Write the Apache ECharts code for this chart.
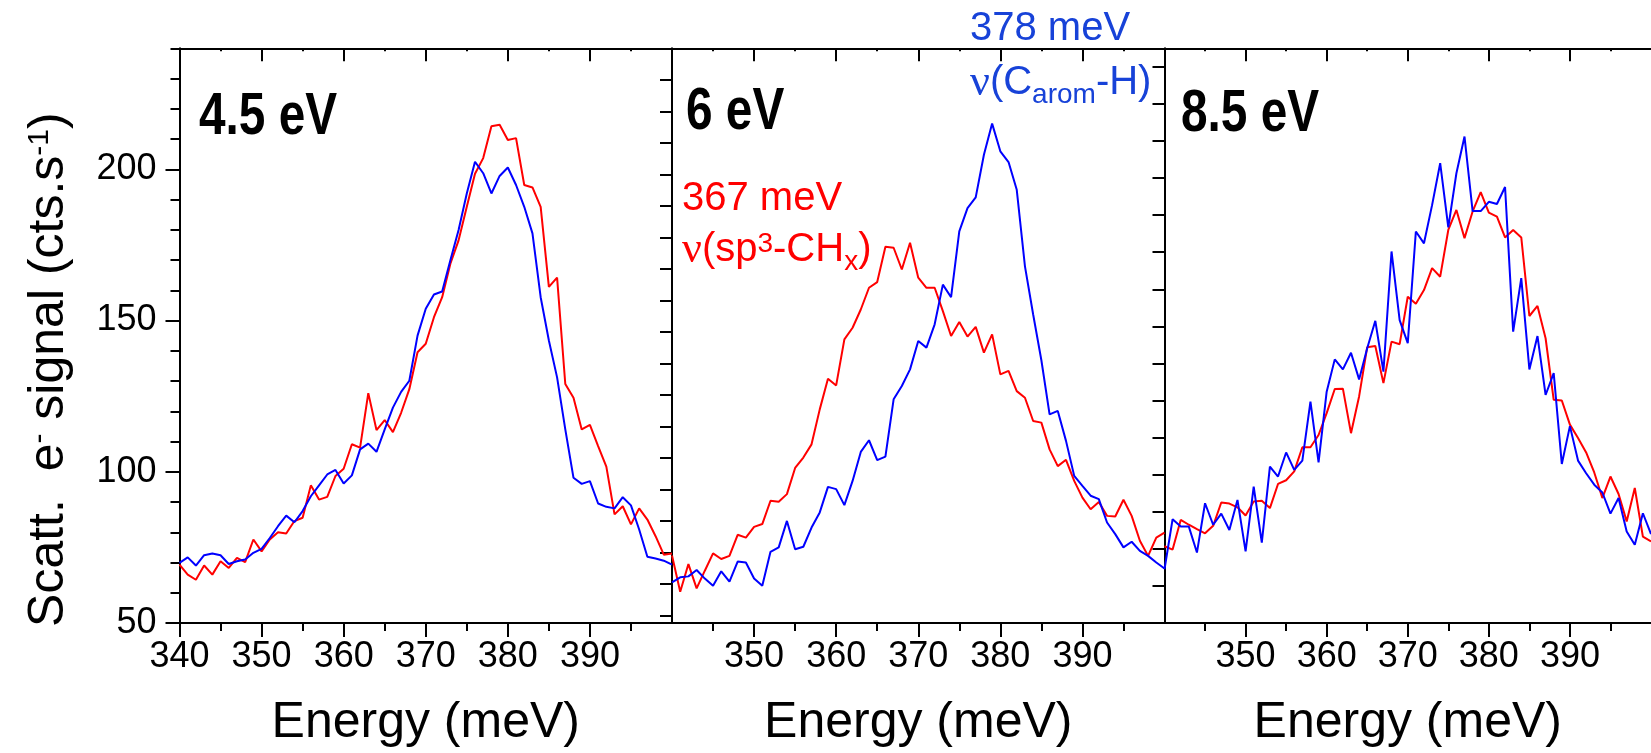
<!DOCTYPE html>
<html>
<head>
<meta charset="utf-8">
<script src="https://cdn.jsdelivr.net/npm/echarts@6/dist/echarts.min.js"></script>
<style>
html,body{margin:0;padding:0;background:#fff}
#main{width:1651px;height:753px}
</style>
</head>
<body>
<div id="main"></div>
<script>
// energy loss (meV), 1 meV steps
var energy = [340,341,342,343,344,345,346,347,348,349,
              350,351,352,353,354,355,356,357,358,359,
              360,361,362,363,364,365,366,367,368,369,
              370,371,372,373,374,375,376,377,378,379,
              380,381,382,383,384,385,386,387,388,389,
              390,391,392,393,394,395,396,397,398,399,400];

// 4.5 eV panel
var red45 = [69.3,66.0,64.3,69.0,66.0,70.4,68.2,71.5,70.1,77.6,
             73.7,77.6,80.0,79.6,83.7,84.8,95.5,90.8,91.7,98.6,
             101.0,109.1,108.0,126.0,113.8,117.1,113.1,119.5,127.3,139.5,
             142.3,151.1,157.7,168.8,176.5,187.6,198.5,203.7,214.2,214.7,
             209.7,210.3,194.8,194.0,187.6,161.1,164.2,129.0,124.5,114.0,
             115.5,108.5,101.7,85.9,88.6,82.6,87.9,84.2,78.7,72.6,73.0];
var blue45 = [69.9,71.7,69.0,72.4,73.0,72.4,69.5,70.4,71.0,73.2,
              74.5,78.1,82.0,85.5,83.3,87.0,91.9,95.5,99.1,100.6,
              96.1,98.8,107.4,109.3,106.6,114.0,121.2,126.4,130.1,145.0,
              153.9,158.6,159.6,169.9,179.9,192.0,202.5,198.7,192.0,197.8,
              200.6,194.8,187.6,178.8,157.7,143.4,131.2,114.0,98.0,96.0,
              96.9,89.5,88.4,87.9,91.6,88.9,80.9,71.9,71.3,70.6,69.3];

// 6 eV panel
var red6 = [79.0,67.5,76.3,68.6,74.2,79.7,77.9,78.9,85.6,84.7,
            88.1,89.0,96.4,96.1,98.5,106.8,110.1,114.3,125.4,135.1,
            133.0,147.6,151.3,157.1,164.0,165.8,177.0,176.7,169.8,178.3,
            167.2,164.0,164.0,156.6,148.7,153.1,148.5,151.6,143.4,149.2,
            136.5,137.6,131.2,129.1,121.7,121.2,112.7,107.4,109.4,102.7,
            97.4,93.7,96.0,91.6,91.4,96.7,91.6,83.7,78.9,84.7,86.3];
var blue6 = [70.5,72.1,72.4,74.4,71.7,69.4,74.0,70.7,77.1,76.8,
             71.7,69.4,80.2,81.6,90.0,81.0,81.8,87.9,92.7,100.8,
             100.1,95.0,102.7,111.9,115.6,109.3,110.4,128.6,132.8,138.1,
             147.1,145.0,152.4,165.0,161.0,181.9,189.3,192.7,206.2,216.1,
             207.3,203.9,195.1,170.8,155.5,141.0,123.8,124.9,115.4,104.3,
             101.1,98.0,96.9,89.5,85.8,81.6,83.4,80.5,78.9,76.8,74.9];

// 8.5 eV panel
var red85 = [80.7,79.8,87.8,86.5,85.3,84.2,86.2,92.5,92.2,91.2,
             89.0,92.8,93.0,91.0,97.5,98.5,100.9,107.4,107.4,110.7,
             116.6,123.1,123.2,111.2,121.1,134.4,134.7,124.7,135.9,135.2,
             148.0,146.1,149.8,155.7,153.4,166.0,171.4,163.8,171.0,176.2,
             170.7,169.6,164.0,166.0,164.0,142.8,145.5,136.8,120.2,120.0,
             113.5,109.9,106.0,100.6,93.7,99.5,94.8,87.4,96.4,83.3,82.0];
var blue85 = [74.5,88.0,86.0,86.0,79.0,92.3,86.5,89.5,85.1,93.2,
              79.3,96.8,81.7,102.2,99.5,106.0,101.3,103.8,119.7,103.3,
              122.4,131.1,128.4,132.9,125.7,134.1,141.5,127.8,160.2,141.7,
              135.5,165.6,162.4,172.7,184.0,166.7,181.3,191.2,171.1,171.1,
              173.6,173.0,177.6,138.6,153.0,128.4,137.4,121.5,127.4,102.9,
              113.1,103.8,100.4,97.3,95.2,89.5,93.7,84.7,81.1,89.6,84.0];

var xTicks = [340,350,360,370,380,390];
var yMajor = [50,100,150,200];
var yTicks6 = [60,70,80,90,100,110,120,130,140,150,160,170,180,190,200,210,220,230,240];

var panelNames = ['4.5 eV','6 eV','8.5 eV'];

function ready(f){ if (document.readyState !== 'loading') f(); else document.addEventListener('DOMContentLoaded', f); }

ready(function(){
  drawPanels();
});

function drawPanels(){
  var FONT = 'Liberation Sans, Arial, sans-serif';
  var lefts = [179.5, 672, 1164.5];
  var W = 492.5;

  function pairs(vals){
    var out = [];
    for (var i = 0; i < energy.length; i++) {
      out.push([energy[i], vals[i]]);
    }
    return out;
  }

  var grid = [];
  var xAxis = [];
  for (var i = 0; i < 3; i++) {
    grid.push({left: lefts[i], top: 48.3, width: W, height: 575});
    // bottom axis
    xAxis.push({
      gridIndex: i, type: 'value', position: 'bottom',
      min: 340, max: 400, interval: 10,
      axisLine: {lineStyle: {color: '#000', width: 2}},
      axisTick: {inside: false, length: 14, lineStyle: {color: '#000', width: 2},
                 customValues: i == 0 ? xTicks : xTicks.slice(1)},
      minorTick: {show: true, splitNumber: 2, length: 8, lineStyle: {color: '#000', width: 2}},
      axisLabel: {color: '#000', fontSize: 36, fontFamily: FONT, margin: 16,
                  showMinLabel: i == 0, showMaxLabel: false},
      splitLine: {show: false},
      name: 'Energy (meV)', nameLocation: 'middle', nameGap: 75,
      nameTextStyle: {color: '#000', fontSize: 50, fontFamily: FONT}
    });
    // top axis
    xAxis.push({
      gridIndex: i, type: 'value', position: 'top',
      min: 340, max: 400, interval: 10,
      axisLine: {lineStyle: {color: '#000', width: 2}},
      axisTick: {inside: true, length: 13, lineStyle: {color: '#000', width: 2},
                 customValues: xTicks.slice(1)},
      minorTick: {show: true, splitNumber: 2, length: 3, lineStyle: {color: '#000', width: 2}},
      axisLabel: {show: false},
      splitLine: {show: false}
    });
  }

  var yAxis = [
    {
      gridIndex: 0, type: 'value', position: 'left',
      min: 50, max: 240, interval: 10,
      axisLine: {show: true, lineStyle: {color: '#000', width: 2}},
      axisTick: {show: true, length: 9, lineStyle: {color: '#000', width: 2}},
      axisLabel: {
        color: '#000', fontSize: 36, fontFamily: FONT, margin: 23,
        formatter: function(v){ return (v % 50 === 0 && v <= 200) ? String(v) : ''; }
      },
      splitLine: {show: false},
      name: 'Scatt.  e{sup|-} signal (cts.s{sup|-1})',
      nameLocation: 'middle', nameRotate: 90, nameGap: 105,
      nameTextStyle: {
        color: '#000', fontSize: 50, fontFamily: FONT,
        padding: [0, 68, 0, 0],
        rich: {sup: {color: '#000', fontSize: 30, fontFamily: FONT, padding: [0, 0, 20, 0]}}
      }
    },
    {
      gridIndex: 0, type: 'value', position: 'left',
      min: 50, max: 240, interval: 50,
      axisLine: {show: false},
      axisTick: {show: true, length: 14, lineStyle: {color: '#000', width: 2}, customValues: yMajor},
      axisLabel: {show: false},
      splitLine: {show: false}
    },
    {
      gridIndex: 1, type: 'value', position: 'left',
      min: 57.6, max: 240,
      axisLine: {show: true, lineStyle: {color: '#000', width: 2}},
      axisTick: {show: true, length: 12, lineStyle: {color: '#000', width: 2}, customValues: yTicks6},
      axisLabel: {show: false},
      splitLine: {show: false}
    },
    {
      gridIndex: 2, type: 'value', position: 'left',
      min: 60, max: 215, interval: 10,
      axisLine: {show: true, lineStyle: {color: '#000', width: 2}},
      axisTick: {show: true, length: 12, lineStyle: {color: '#000', width: 2}},
      axisLabel: {show: false},
      splitLine: {show: false}
    }
  ];

  var yIdx = [0, 2, 3];
  var reds = [red45, red6, red85];
  var blues = [blue45, blue6, blue85];
  var series = [];
  for (var p = 0; p < 3; p++) {
    series.push({
      type: 'line', xAxisIndex: 2 * p, yAxisIndex: yIdx[p],
      data: pairs(reds[p]), showSymbol: false,
      lineStyle: {color: '#ff0000', width: 2}, itemStyle: {color: '#ff0000'}
    });
    series.push({
      type: 'line', xAxisIndex: 2 * p, yAxisIndex: yIdx[p],
      data: pairs(blues[p]), showSymbol: false,
      lineStyle: {color: '#0000ff', width: 2}, itemStyle: {color: '#0000ff'}
    });
  }

  // panel labels are condensed bold in the original
  var labelPos = [[199, 88], [686, 83], [1181, 85]];
  var graphic = [];
  for (var k = 0; k < 3; k++) {
    graphic.push({
      type: 'text', x: labelPos[k][0], y: labelPos[k][1], scaleX: 0.81, z: 100,
      style: {text: panelNames[k], font: 'bold 59px ' + FONT, fill: '#000',
              verticalAlign: 'top', textVerticalAlign: 'top'}
    });
  }

  var BLUE_T = '#1742d8';
  var RED_T = '#ff0000';
  function richSet(col){
    return {
      m: {font: '40px ' + FONT, fill: col, lineHeight: 52},
      nu: {font: '44px Liberation Serif, serif', fill: col, lineHeight: 52},
      sup: {font: '28px ' + FONT, fill: col, lineHeight: 52, padding: [0, 0, 12, 0]},
      sub: {font: '28px ' + FONT, fill: col, lineHeight: 52, padding: [24, 0, 0, 0]}
    };
  }
  graphic.push({
    type: 'text', x: 970, y: 9, z: 100,
    style: {text: '378 meV', font: '40px ' + FONT, fill: BLUE_T, verticalAlign: 'top', textVerticalAlign: 'top'}
  });
  graphic.push({
    type: 'text', x: 970, y: 57, z: 100,
    style: {text: '{nu|ν}{m|(C}{sub|arom}{m|-H)}', rich: richSet(BLUE_T), fill: BLUE_T,
            font: '40px ' + FONT, lineHeight: 52, verticalAlign: 'top', textVerticalAlign: 'top'}
  });
  graphic.push({
    type: 'text', x: 682, y: 179, z: 100,
    style: {text: '367 meV', font: '40px ' + FONT, fill: RED_T, verticalAlign: 'top', textVerticalAlign: 'top'}
  });
  graphic.push({
    type: 'text', x: 682, y: 224, z: 100,
    style: {text: '{nu|ν}{m|(sp}{sup|3}{m|-CH}{sub|x}{m|)}', rich: richSet(RED_T), fill: RED_T,
            font: '40px ' + FONT, lineHeight: 52, verticalAlign: 'top', textVerticalAlign: 'top'}
  });

  var myChart = echarts.init(document.getElementById('main'));
  var option = {
    backgroundColor: '#fff',
    animation: false,
    grid: grid,
    xAxis: xAxis,
    yAxis: yAxis,
    series: series,
    graphic: graphic
  };
  myChart.setOption(option);
  window.addEventListener('resize', function () {
    myChart.resize();
  });
}
</script>
</body>
</html>
